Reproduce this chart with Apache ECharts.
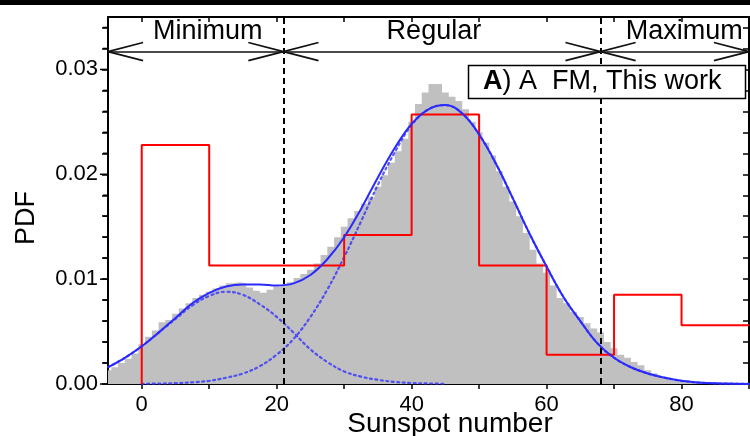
<!DOCTYPE html>
<html><head><meta charset="utf-8">
<script src="https://cdn.jsdelivr.net/npm/echarts@6/dist/echarts.min.js"></script>
<style>html,body{margin:0;padding:0;background:#fff}#c{width:750px;height:436px}</style>
</head><body><div id="c"></div>
<script>
// ---- data ----
const curveX = [-5,-2.5,0,2.5,5,7.5,10,12.5,15,17.5,20,22.5,25,27.5,30,32.5,35,37.5,40,42.5,45,47.5,50,52.5,55,57.5,60,62.5,65,67.5,70,72.5,75,77.5,80,82.5,85,87.5,90];
const fitTotal = [0.0016,0.0025,0.0036,0.0049,0.0063,0.0077,0.0087,0.0093,0.0095,0.0095,0.0094,0.0096,0.0104,0.0119,0.0140,0.0167,0.0197,0.0225,0.0248,0.0262,0.0266,0.0258,0.0238,0.0210,0.0177,0.0143,0.0112,0.0083,0.0060,0.0039,0.0025,0.0016,0.0010,0.0006,0.0003,0.00014,0.00006,0.00003,0.00001];
const minimumX = [-5,-2.5,0,2.5,5,7.5,10,12.5,15,17.5,20,22.5,25,27.5,30,32.5,35,37.5,40,42.5,45];
const fitMinimum = [0.0016,0.0025,0.0036,0.0049,0.0062,0.0075,0.0084,0.0088,0.0085,0.0076,0.0064,0.0049,0.0033,0.0021,0.0012,0.0007,0.0004,0.0002,0.0001,0.00005,0.00002];
const regularX = [0,2.5,5,7.5,10,12.5,15,17.5,20,22.5,25,27.5,30,32.5,35,37.5,40,42.5,45,47.5,50,52.5,55,57.5,60,62.5,65,67.5,70,72.5,75,77.5,80,82.5,85,87.5,90];
const fitRegular = [0.00002,0.00004,0.00008,0.00016,0.0003,0.0006,0.0010,0.0017,0.0028,0.0043,0.0064,0.0090,0.0121,0.0155,0.0190,0.0221,0.0247,0.0262,0.0266,0.0258,0.0238,0.0210,0.0177,0.0143,0.0112,0.0083,0.0060,0.0039,0.0025,0.0016,0.0010,0.0006,0.0003,0.00014,0.00006,0.00003,0.00001];

const histCenters = [-5,-4,-3,-2,-1,0,1,2,3,4,5,6,7,8,9,10,11,12,13,14,15,16,17,18,19,20,21,22,23,24,25,26,27,28,29,30,31,32,33,34,35,36,37,38,39,40,41,42,43,44,45,46,47,48,49,50,51,52,53,54,55,56,57,58,59,60,61,62,63,64,65,66,67,68,69,70,71,72,73,74,75,76,77,78,79,80,81,82,83,84,85,86,87,88,89,90];
const histValues = [0.0013,0.0016,0.0020,0.0024,0.0029,0.0038,0.0045,0.0051,0.0059,0.0061,0.0067,0.0072,0.0077,0.0082,0.0085,0.0088,0.0091,0.0094,0.0096,0.0097,0.0096,0.0092,0.0089,0.0087,0.0090,0.0093,0.0094,0.0097,0.0101,0.0105,0.0109,0.0115,0.0123,0.0131,0.0140,0.0150,0.0158,0.0165,0.0172,0.0178,0.0188,0.0199,0.0211,0.0222,0.0234,0.0250,0.0267,0.0278,0.0286,0.0286,0.0278,0.0274,0.0270,0.0262,0.0250,0.0240,0.0230,0.0218,0.0203,0.0188,0.0174,0.0160,0.0144,0.0128,0.0115,0.0106,0.0094,0.0082,0.0077,0.0069,0.0064,0.0058,0.0053,0.0049,0.0040,0.0034,0.0028,0.0025,0.0021,0.0018,0.0013,0.0010,0.0007,0.0006,0.0003,0.0002,0.00015,0.0001,0.00008,0.00006,0.00005,0.00004,0.00003,0.00003,0.00002,0.00002];

const binEdges = [0,10,20,30,40,50,60,70,80,90];
const binValues = [0.0228,0.0113,0.0113,0.0142,0.0257,0.0113,0.0028,0.0085,0.0056];

const phaseBounds = [-5,21,68,90];
const phaseLabels = ['Minimum','Regular','Maximum'];
const phaseLabelX = [9.8,43.3,80.4];
const phaseLineY = 0.0317;
const phaseLabelY = 0.0336;

const xTickValues = [0,10,20,30,40,50,60,70,80,90];
const xLabelValues = [0,20,40,60,80];
const yLabelValues = [0,0.01,0.02,0.03];
const yLabelTexts = ['0.00','0.01','0.02','0.03'];
const yMinorValues = [0.002,0.004,0.006,0.008,0.012,0.014,0.016,0.018,0.022,0.024,0.026,0.028,0.032,0.034];
const yAllValues = [0,0.002,0.004,0.006,0.008,0.01,0.012,0.014,0.016,0.018,0.02,0.022,0.024,0.026,0.028,0.03,0.032,0.034];

// ---- build ----
const FONT = 'Liberation Sans, Arial, sans-serif';
const zip = (xs, ys) => xs.map((x, i) => [x, ys[i]]);

const histData = histCenters.map((c, i) => [c - 0.5, histValues[i]]);
histData.push([histCenters[histCenters.length - 1] + 0.5, histValues[histValues.length - 1]]);

const redData = [[binEdges[0], 0]];
binValues.forEach((v, i) => redData.push([binEdges[i], v]));
redData.push([binEdges[binEdges.length - 1], binValues[binValues.length - 1]]);

// arrows (chevrons) at each phase boundary
const armDx = 5.2, armDy = 0.00086;
const arrowLines = [[{coord: [phaseBounds[0], phaseLineY]}, {coord: [phaseBounds[phaseBounds.length - 1], phaseLineY]}]];
for (let i = 0; i < phaseBounds.length - 1; i++) {
  const a = phaseBounds[i], b = phaseBounds[i + 1];
  [1, -1].forEach(s => {
    arrowLines.push([{coord: [a, phaseLineY]}, {coord: [a + armDx, phaseLineY + s * armDy]}]);
    arrowLines.push([{coord: [b, phaseLineY]}, {coord: [b - armDx, phaseLineY + s * armDy]}]);
  });
}

const chart = echarts.init(document.getElementById('c'), null, {renderer: 'canvas'});
const axisLineStyle = {color: '#000', width: 2};
const dotStyle = {color: 'rgba(50,50,255,0.8)', width: 2.2, type: [2, 3.5], cap: 'round'};
const option = {
  animation: false,
  backgroundColor: '#fff',
  grid: {left: 108, right: 1, top: 17, bottom: 52, containLabel: false},
  xAxis: [
    {type: 'value', min: -5, max: 90, position: 'bottom',
     axisLine: {show: true, onZero: false, lineStyle: axisLineStyle},
     axisTick: {show: true, customValues: xTickValues, length: 5, inside: false, lineStyle: {color: '#000', width: 1.5}},
     axisLabel: {show: true, customValues: xLabelValues, fontSize: 22, color: '#000', fontFamily: FONT, margin: 10},
     splitLine: {show: false}},
    {type: 'value', min: -5, max: 90, position: 'top',
     axisLine: {show: true, onZero: false, lineStyle: axisLineStyle},
     axisTick: {show: true, customValues: xTickValues, length: 5, inside: true, lineStyle: {color: '#000', width: 1.5}},
     axisLabel: {show: false}, splitLine: {show: false}}
  ],
  yAxis: [
    {type: 'value', min: 0, max: 0.035, position: 'left',
     axisLine: {show: true, onZero: false, lineStyle: axisLineStyle},
     axisTick: {show: true, customValues: yAllValues, length: 6, lineStyle: {color: '#000', width: 1.5}},
     axisLabel: {show: false},
     splitLine: {show: false}},
    {type: 'value', min: 0, max: 0.035, position: 'right',
     axisLine: {show: true, onZero: false, lineStyle: axisLineStyle},
     axisTick: {show: true, customValues: yAllValues, length: 6, inside: true, lineStyle: {color: '#000', width: 1.5}},
     axisLabel: {show: false}, splitLine: {show: false}}
  ],
  series: [
    {name: 'hist', type: 'line', step: 'end', data: histData, symbol: 'none', z: 1,
     lineStyle: {width: 0}, areaStyle: {color: '#c0c0c0', opacity: 1}, silent: true},
    {name: 'minimum fit', type: 'line', smooth: 0.4, data: zip(minimumX, fitMinimum), symbol: 'none', z: 2,
     lineStyle: dotStyle, silent: true},
    {name: 'regular fit', type: 'line', smooth: 0.4, data: zip(regularX, fitRegular), symbol: 'none', z: 2,
     lineStyle: dotStyle, silent: true},
    {name: 'bins', type: 'line', step: 'end', data: redData, symbol: 'none', z: 3,
     lineStyle: {color: '#ff0000', width: 2}, silent: true,
     markLine: {silent: true, symbol: 'none', label: {show: false},
       lineStyle: {color: '#000', width: 2, type: [6, 4]},
       data: [{xAxis: phaseBounds[1]}, {xAxis: phaseBounds[2]}]}},
    {name: 'total fit', type: 'line', smooth: 0.4, data: zip(curveX, fitTotal), symbol: 'none', z: 4,
     lineStyle: {color: '#2a2aff', width: 2}, silent: true,
     markLine: {silent: true, symbol: 'none', label: {show: false},
       lineStyle: {color: '#111', width: 1.6, type: 'solid'},
       data: arrowLines}}
  ]
};
chart.setOption(option);

const px = (x, y) => chart.convertToPixel({xAxisIndex: 0, yAxisIndex: 0}, [x, y]);
const graphics = [
  {type: 'rect', shape: {x: 0, y: 0, width: 750, height: 5}, style: {fill: '#000'}, z: 100}
];
// y tick labels and ticks (placed through the y scale)
yLabelValues.forEach((v, i) => {
  const p = px(-5, v);
  graphics.push({type: 'text', x: p[0] - 10, y: p[1], z: 100,
    style: {text: yLabelTexts[i], font: '22px ' + FONT, fill: '#000', align: 'right', verticalAlign: 'middle'}});
  graphics.push({type: 'line', shape: {x1: p[0] - 8, y1: p[1], x2: p[0], y2: p[1]}, style: {stroke: '#000', lineWidth: 1.5}, z: 100});
});
yMinorValues.forEach(v => {
  const p = px(-5, v);
  graphics.push({type: 'line', shape: {x1: p[0] - 5, y1: p[1], x2: p[0], y2: p[1]}, style: {stroke: '#000', lineWidth: 1.5}, z: 100});
});
phaseLabels.forEach((t, i) => {
  const p = px(phaseLabelX[i], phaseLabelY);
  graphics.push({type: 'text', x: p[0], y: p[1], z: 100,
    style: {text: t, font: '27px ' + FONT, fill: '#000', align: 'center', verticalAlign: 'middle'}});
});
graphics.push({type: 'rect', shape: {x: 468.5, y: 65.5, width: 277, height: 33}, style: {fill: '#fff', stroke: '#000', lineWidth: 1.5}, z: 100});
graphics.push({type: 'text', x: 483, y: 82, z: 101,
  style: {text: '{b|A}) A  FM, This work', font: '27px ' + FONT, fill: '#000', verticalAlign: 'middle',
    rich: {b: {fontWeight: 'bold', fontSize: 27, fontFamily: FONT, fill: '#000'}}}});
graphics.push({type: 'text', x: 27, y: 218, rotation: Math.PI / 2, z: 100,
  style: {text: 'PDF', font: '27px ' + FONT, fill: '#000', align: 'center', verticalAlign: 'middle'}});
graphics.push({type: 'text', x: 450, y: 424, z: 100,
  style: {text: 'Sunspot number', font: '28px ' + FONT, fill: '#000', align: 'center', verticalAlign: 'middle'}});
chart.setOption({graphic: graphics});
</script></body></html>
